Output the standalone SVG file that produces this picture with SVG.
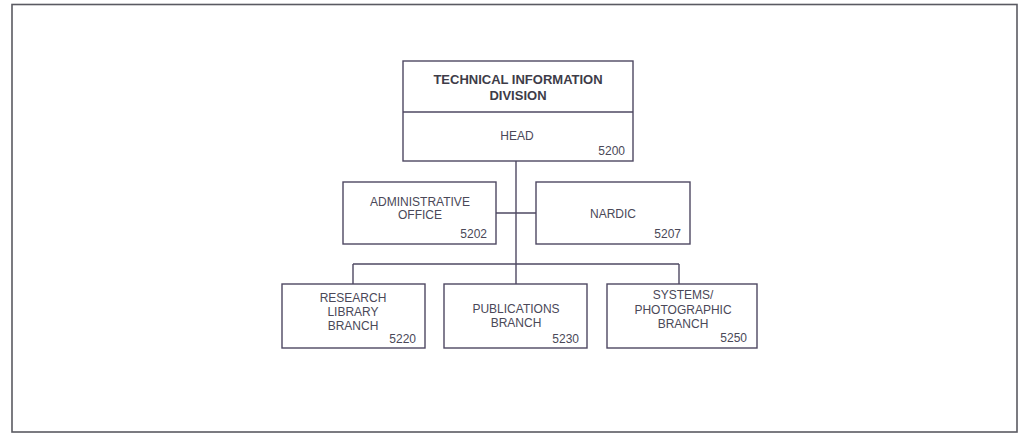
<svg xmlns="http://www.w3.org/2000/svg" width="1018" height="435" viewBox="0 0 1018 435">
<style>
.frame{fill:none;stroke:#5a5a62;stroke-width:1.6}
.box{fill:#fff;stroke:#4e4862;stroke-width:1.4}
.ln{fill:none;stroke:#4e4862;stroke-width:1.4}
text{font-family:"Liberation Sans",Arial,sans-serif;font-size:12px;fill:#4a4858}
.c{text-anchor:middle}
.r{text-anchor:end}
.t{font-weight:bold;font-size:13px;fill:#3e3c48}
</style>
<rect width="1018" height="435" fill="#fff"/>
<rect class="frame" x="12" y="4.5" width="1005" height="427.5"/>
<g id="connectors">
<line class="ln" x1="516" y1="161" x2="516" y2="284"/>
<line class="ln" x1="496" y1="213" x2="536" y2="213"/>
<line class="ln" x1="353" y1="264" x2="679" y2="264"/>
<line class="ln" x1="353" y1="264" x2="353" y2="284"/>
<line class="ln" x1="679" y1="264" x2="679" y2="284"/>
</g>
<g id="tid">
<rect class="box" x="403" y="61" width="230" height="100"/>
<line class="ln" x1="403" y1="112" x2="633" y2="112"/>
<text class="c t" x="518" y="84">TECHNICAL INFORMATION</text>
<text class="c t" x="518" y="100">DIVISION</text>
<text class="c" x="517" y="140">HEAD</text>
<text class="r" x="625" y="155">5200</text>
</g>
<g id="admin">
<rect class="box" x="343" y="182" width="153" height="62"/>
<text class="c" x="420" y="206">ADMINISTRATIVE</text>
<text class="c" x="420" y="219">OFFICE</text>
<text class="r" x="487" y="238">5202</text>
</g>
<g id="nardic">
<rect class="box" x="536" y="182" width="154" height="62"/>
<text class="c" x="613" y="218">NARDIC</text>
<text class="r" x="681" y="238">5207</text>
</g>
<g id="research">
<rect class="box" x="282" y="284" width="143" height="64"/>
<text class="c" x="353" y="302">RESEARCH</text>
<text class="c" x="353" y="316">LIBRARY</text>
<text class="c" x="353" y="330">BRANCH</text>
<text class="r" x="416" y="343">5220</text>
</g>
<g id="publications">
<rect class="box" x="444" y="284" width="143" height="64"/>
<text class="c" x="516" y="313">PUBLICATIONS</text>
<text class="c" x="516" y="327">BRANCH</text>
<text class="r" x="579" y="343">5230</text>
</g>
<g id="systems">
<rect class="box" x="607" y="284" width="150" height="64"/>
<text class="c" x="683" y="299">SYSTEMS/</text>
<text class="c" x="683" y="314">PHOTOGRAPHIC</text>
<text class="c" x="683" y="328">BRANCH</text>
<text class="r" x="747" y="342">5250</text>
</g>
</svg>
